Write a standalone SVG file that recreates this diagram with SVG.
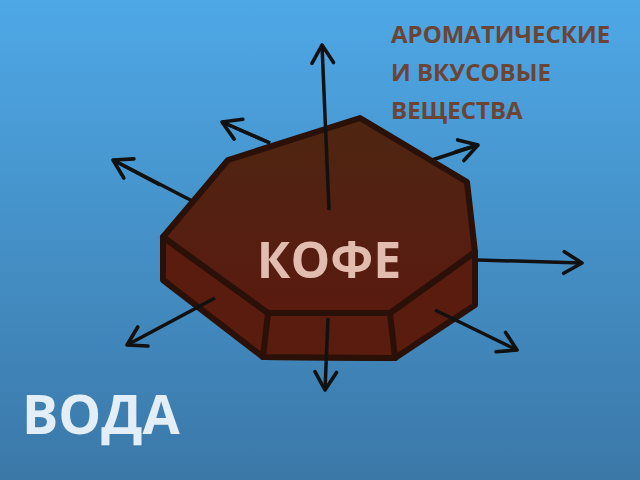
<svg xmlns="http://www.w3.org/2000/svg" width="640" height="480" viewBox="0 0 640 480">
<defs>
<linearGradient id="bg" x1="0" y1="0" x2="0" y2="1"><stop offset="0" stop-color="#4ea8e6"/><stop offset="1" stop-color="#3b78a8"/></linearGradient>
<linearGradient id="top" x1="0" y1="0" x2="0" y2="1"><stop offset="0" stop-color="#4e2612"/><stop offset="1" stop-color="#5a1a10"/></linearGradient>
<marker id="ah" viewBox="0 0 20 20" refX="17" refY="10" markerWidth="24" markerHeight="24" orient="auto" markerUnits="userSpaceOnUse" overflow="visible"><path d="M2,1 L17,10 L2,19" fill="none" stroke="#111" stroke-width="3" stroke-linecap="round" stroke-linejoin="round"/></marker>
<style>.ar{stroke:#111;stroke-width:3.5;fill:none;marker-end:url(#ah)}.b{stroke:#2a1006;stroke-width:6;stroke-linejoin:round}.t{font-family:"Open Sans","Noto Sans",sans-serif;font-weight:bold}</style>
</defs>
<rect width="640" height="480" fill="url(#bg)"/>
<g id="connectors-back">
<path class="ar" d="M270,143 L222,122" style="marker-end:none"/>
<path class="ar" d="M200,205 L113,160" style="marker-end:none"/>
<path class="ar" d="M432,160 L478,145" style="marker-end:none"/>
</g>
<g id="coffee">
<polygon class="b" fill="#5a1c0e" points="163,237 163,280 263,357 395,358 475,305 475,252 390,313 268,313"/>
<polygon class="b" fill="#5a1c0e" points="268,313 390,313 395,358 263,357"/>
<polygon class="b" fill="url(#top)" points="163,237 228,160 360,118 467,182 475,252 390,313 268,313"/>
<text class="t" x="329" y="278" font-size="50" fill="#e2bcae" text-anchor="middle">КОФЕ</text>
</g>
<g id="connectors">
<line class="ar" x1="329" y1="210" x2="322" y2="45"/>
<line class="ar" x1="270" y1="143" x2="222" y2="122"/>
<line class="ar" x1="160" y1="185" x2="113" y2="160"/>
<line class="ar" x1="215" y1="298" x2="127" y2="345"/>
<line class="ar" x1="328" y1="318" x2="325" y2="390"/>
<line class="ar" x1="435" y1="310" x2="517" y2="350"/>
<line class="ar" x1="478" y1="260" x2="582" y2="263"/>
<line class="ar" x1="455" y1="152" x2="478" y2="145"/>
</g>
<g id="labels">
<text class="t" font-size="24" fill="#6b4434"><tspan x="391" y="43">АРОМАТИЧЕСКИЕ</tspan><tspan x="391" y="81">И ВКУСОВЫЕ</tspan><tspan x="391" y="119">ВЕЩЕСТВА</tspan></text>
<text class="t" x="22" y="434" font-size="54" fill="#e4eef6">ВОДА</text>
</g>
</svg>
